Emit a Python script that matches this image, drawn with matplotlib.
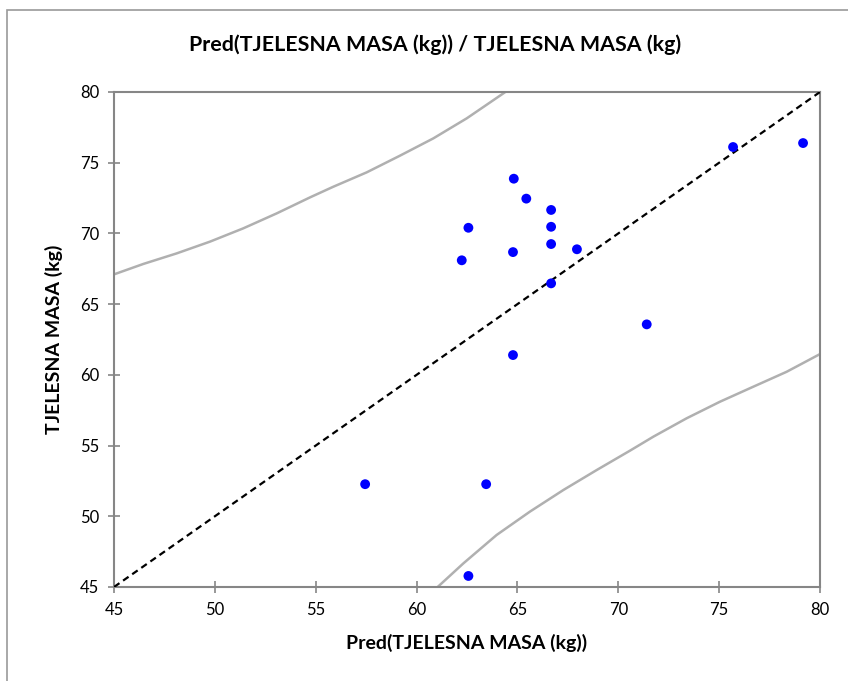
import numpy as np
import matplotlib
matplotlib.use('Agg')
import matplotlib.pyplot as plt
from matplotlib.patches import Rectangle

plt.rcParams['font.family'] = ['Lato', 'DejaVu Sans']

# observed vs predicted body mass
pred = [57.45, 63.45, 62.57, 62.24, 62.57, 64.82, 65.44, 64.78, 66.67,
        66.67, 66.67, 67.95, 66.67, 64.78, 71.41, 75.69, 79.16]
obs = [52.27, 52.27, 45.78, 68.10, 70.40, 73.87, 72.46, 68.68, 71.66,
       70.47, 69.25, 68.88, 66.47, 61.40, 63.57, 76.11, 76.39]

# confidence band curves
upper_x = [45.05, 46.45, 48.11, 49.76, 51.41, 53.07, 54.72, 55.87, 57.53,
           59.18, 60.83, 62.49, 64.38]
upper_y = [67.13, 67.84, 68.59, 69.42, 70.36, 71.42, 72.55, 73.3, 74.32,
           75.5, 76.72, 78.14, 79.98]
lower_x = [61.03, 62.32, 63.97, 65.62, 67.28, 68.93, 70.58, 71.74, 73.39,
           75.04, 76.69, 78.35, 80.0]
lower_y = [44.98, 46.67, 48.68, 50.33, 51.86, 53.27, 54.64, 55.63, 56.93,
           58.1, 59.16, 60.22, 61.47]

lims = [45, 80]

fig = plt.figure(figsize=(8.48, 6.81), dpi=100)
fig.patches.append(Rectangle((7 / 848, -0.1), 1.2, 1.1 - 10 / 681,
                             transform=fig.transFigure, fill=False,
                             edgecolor='#9a9a9a', lw=1.2))
ax = fig.add_axes([114 / 848, 1 - 587 / 681, 706 / 848, 495 / 681])

ax.plot(upper_x, upper_y, color='#b0b0b0', lw=1.8, zorder=2)
ax.plot(lower_x, lower_y, color='#b0b0b0', lw=1.8, zorder=2)
ax.plot(lims, lims, color='black', lw=1.6, ls=(0, (3, 2)), zorder=3)
ax.scatter(pred, obs, s=50, color='#0000ff', edgecolors='none', zorder=4)

ax.set_xlim(lims)
ax.set_ylim(lims)
ax.set_xticks(np.arange(45, 81, 5))
ax.set_yticks(np.arange(45, 81, 5))
for s in ax.spines.values():
    s.set_color('#868686')
    s.set_linewidth(1.5)
ax.tick_params(direction='inout', length=9, width=1.2, color='#868686',
               labelsize=12, pad=6)

ax.set_xlabel('Pred(TJELESNA MASA (kg))', fontsize=14, fontweight='bold',
              labelpad=12)
ax.set_ylabel('TJELESNA MASA (kg)', fontsize=14, fontweight='bold',
              labelpad=12)
fig.text(435 / 848, 1 - 45 / 681, 'Pred(TJELESNA MASA (kg)) / TJELESNA MASA (kg)',
         ha='center', va='center', fontsize=15.4, fontweight='bold')

fig.savefig('out.png', dpi=100)
